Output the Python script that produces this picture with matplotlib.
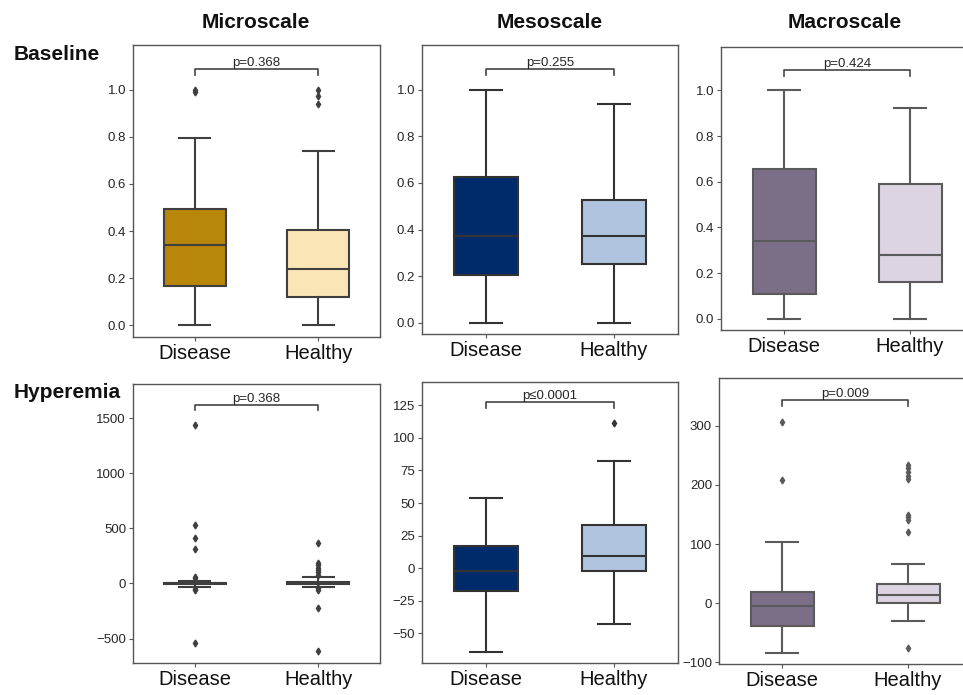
import matplotlib
matplotlib.use("Agg")
import matplotlib.pyplot as plt
from matplotlib import font_manager

# ---------------- data ----------------
groups = ["Disease", "Healthy"]
col_titles = ["Microscale", "Mesoscale", "Macroscale"]
row_titles = ["Baseline", "Hyperemia"]

# five-number summaries per group: [whisker_low, q1, median, q3, whisker_high]
base_micro = [[0.0, 0.166, 0.34, 0.495, 0.794], [0.0, 0.12, 0.237, 0.403, 0.738]]
base_micro_fliers = [[0.99, 1.0], [0.94, 0.975, 1.0]]
base_micro_p = "p=0.368"

base_meso = [[0.0, 0.205, 0.371, 0.626, 1.0], [0.0, 0.25, 0.371, 0.529, 0.938]]
base_meso_fliers = [[], []]
base_meso_p = "p=0.255"

base_macro = [[0.0, 0.109, 0.341, 0.657, 1.0], [0.0, 0.162, 0.278, 0.59, 0.923]]
base_macro_fliers = [[], []]
base_macro_p = "p=0.424"

hyp_micro = [[-34, -8, 0, 6, 18], [-30, -5, 5, 15, 55]]
hyp_micro_fliers = [[1435, 530, 410, 315, 60, 50, -50, -60, -540],
                    [365, 185, 165, 140, 120, 100, 80, -40, -60, -227, -615]]
hyp_micro_p = "p=0.368"

hyp_meso = [[-64.3, -17.6, -1.8, 17.1, 53.8], [-42.6, -1.8, 9.7, 33.4, 82.1]]
hyp_meso_fliers = [[], [111.5]]
hyp_meso_p = "p\u22640.0001"

hyp_macro = [[-84.6, -37.8, -4.5, 19.7, 104.3], [-30.5, 0.0, 13.5, 32.0, 67.0]]
hyp_macro_fliers = [[307, 208], [233, 228, 222, 215, 210, 150, 145, 140, 120, -75]]
hyp_macro_p = "p=0.009"

base_yticks = [0.0, 0.2, 0.4, 0.6, 0.8, 1.0]
hyp_micro_yticks = [-500, 0, 500, 1000, 1500]
hyp_meso_yticks = [-50, -25, 0, 25, 50, 75, 100, 125]
hyp_macro_yticks = [-100, 0, 100, 200, 300]

micro_colors = ["#B8860B", "#FAE5B6"]
meso_colors = ["#002B6B", "#B0C4DF"]
macro_colors = ["#7B6F88", "#DCD5E1"]

# ---------------- fonts ----------------
avail = {f.name for f in font_manager.fontManager.ttflist}
fam = "Liberation Sans Narrow" if "Liberation Sans Narrow" in avail else "Liberation Sans"
plt.rcParams["font.family"] = [fam, "DejaVu Sans"]

W, H = 963, 695
fig = plt.figure(figsize=(W / 100, H / 100), dpi=100)

def px_axes(l, r, t, b):
    return fig.add_axes([l / W, 1 - b / H, (r - l) / W, (b - t) / H])

panels = [
    ((133, 380, 45, 337), base_micro, base_micro_fliers, micro_colors, base_yticks,
     (-0.05, 1.19), base_micro_p, 1.088, 0.025, "#3f3f3f"),
    ((422, 678, 45, 334), base_meso, base_meso_fliers, meso_colors, base_yticks,
     (-0.049, 1.193), base_meso_p, 1.088, 0.025, "#333333"),
    ((721, 973, 47, 330), base_macro, base_macro_fliers, macro_colors, base_yticks,
     (-0.049, 1.19), base_macro_p, 1.088, 0.025, "#5a5a5a"),
    ((133, 380, 384, 663), hyp_micro, hyp_micro_fliers, micro_colors, hyp_micro_yticks,
     (-722, 1809), hyp_micro_p, 1620, 50, "#3f3f3f"),
    ((422, 678, 382, 663), hyp_meso, hyp_meso_fliers, meso_colors, hyp_meso_yticks,
     (-72.7, 142.8), hyp_meso_p, 127.3, 4.5, "#333333"),
    ((719, 971, 378, 664), hyp_macro, hyp_macro_fliers, macro_colors, hyp_macro_yticks,
     (-102.6, 380.7), hyp_macro_p, 343, 10, "#5a5a5a"),
]

for (box, stats, fliers, colors, yticks, ylim, ptxt, by, bd, ec) in panels:
    ax = px_axes(*box)
    bstats = []
    for s, f, g in zip(stats, fliers, groups):
        bstats.append(dict(whislo=s[0], q1=s[1], med=s[2], q3=s[3], whishi=s[4],
                           fliers=f, label=g))
    art = ax.bxp(bstats, positions=[0, 1], widths=0.5, patch_artist=True,
                 boxprops=dict(edgecolor=ec, linewidth=1.5),
                 medianprops=dict(color=ec, linewidth=1.5),
                 whiskerprops=dict(color=ec, linewidth=1.5),
                 capprops=dict(color=ec, linewidth=1.5),
                 flierprops=dict(marker="d", markersize=3.5, markerfacecolor=ec,
                                 markeredgecolor=ec, linestyle="none"))
    for patch, c in zip(art["boxes"], colors):
        patch.set_facecolor(c)
    ax.set_xlim(-0.5, 1.5)
    ax.set_ylim(*ylim)
    ax.set_yticks(yticks)
    if isinstance(yticks[0], float):
        ax.set_yticklabels([f"{v:.1f}" for v in yticks])
    else:
        ax.set_yticklabels([f"{v}".replace("-", "\u2212") for v in yticks])
    ax.set_xticks([0, 1])
    ax.set_xticklabels(groups)
    ax.tick_params(axis="y", labelsize=9.5, length=3, width=0.8, colors="#555555",
                   labelcolor="#262626", pad=2)
    ax.tick_params(axis="x", labelsize=14.5, length=3, width=0.8, colors="#555555",
                   labelcolor="#111111", pad=2)
    for sp in ax.spines.values():
        sp.set_color("#555555")
        sp.set_linewidth(1.0)
    # significance bracket
    ax.plot([0, 0, 1, 1], [by - bd, by, by, by - bd], color="#444444", lw=1.2)
    ax.text(0.5, by, ptxt, ha="center", va="bottom", fontsize=9.5, color="#262626")

# column titles
for x, t in zip([256, 550, 845], col_titles):
    fig.text(x / W, 1 - 22 / H, t, ha="center", va="center", fontsize=15,
             fontweight="bold", color="#111111")
# row titles
for y, t in zip([55, 392], row_titles):
    fig.text(14 / W, 1 - y / H, t, ha="left", va="center", fontsize=15,
             fontweight="bold", color="#111111")

fig.savefig("out.png", dpi=100)
